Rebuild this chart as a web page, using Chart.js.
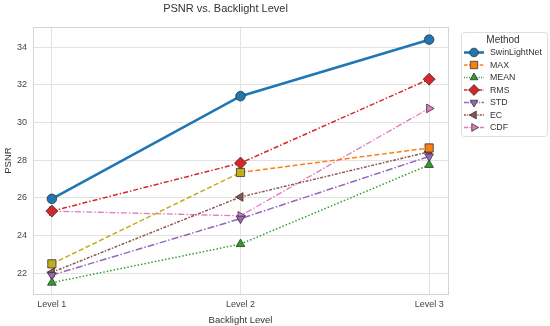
<!DOCTYPE html>
<html>
<head>
<meta charset="utf-8">
<script src="https://cdn.jsdelivr.net/npm/chart.js@4.4.1/dist/chart.umd.min.js"></script>
<style>
  html, body { margin: 0; padding: 0; background: #fff; }
  #wrap { width: 550px; height: 326px; }
</style>
</head>
<body>
<div id="wrap"><canvas id="psnrChart" width="550" height="326"></canvas></div>
<script>
// data
const levels = ['Level 1', 'Level 2', 'Level 3'];
const swinVals = [25.95, 31.4, 34.4];
const maxVals = [22.5, 27.35, 28.65];
const meanVals = [21.5, 23.55, 27.75];
const rmsVals = [25.3, 27.85, 32.3];
const stdVals = [21.9, 24.9, 28.2];
const ecVals = [22.05, 26.05, 28.45];
const cdfVals = [25.3, 25.05, 30.75];
const yTicks = [22, 24, 26, 28, 30, 32, 34];

const pts = (arr) => arr.map((v, i) => ({ x: i, y: v }));

Chart.defaults.font.family = '"Liberation Sans", Arial, sans-serif';
Chart.defaults.color = '#444';

const series = [
  { label: 'SwinLightNet', data: swinVals, color: '#1f77b4', style: 'circle', rot: 0, r: 4.8, dash: [], lw: 2.6 },
  { label: 'MAX', data: maxVals, color: '#ff7f0e', style: 'rect', rot: 0, r: 5.8, dash: [5, 2.5], lw: 1.5 },
  { label: 'MEAN', data: meanVals, color: '#2ca02c', style: 'triangle', rot: 0, r: 5, dash: [1.5, 2], lw: 1.5 },
  { label: 'RMS', data: rmsVals, color: '#d62728', style: 'rectRot', rot: 0, r: 6, dash: [5, 2, 1.5, 2], lw: 1.5 },
  { label: 'STD', data: stdVals, color: '#9467bd', style: 'triangle', rot: 180, r: 5, dash: [7, 2, 1.5, 2], lw: 1.5 },
  { label: 'EC', data: ecVals, color: '#8c564b', style: 'triangle', rot: 270, r: 5, dash: [3, 1.5, 1.5, 1.5], lw: 1.5 },
  { label: 'CDF', data: cdfVals, color: '#e377c2', style: 'triangle', rot: 90, r: 5, dash: [6, 2, 1.5, 2], lw: 1.3 }
];

// the left part of MAX comes out olive in the picture
const maxLeft = '#c2ad1c';

const datasets = series.map((s) => {
  const ds = {
    label: s.label,
    data: pts(s.data),
    borderColor: s.color,
    backgroundColor: s.color,
    borderWidth: s.lw,
    borderDash: s.dash,
    pointStyle: s.style,
    pointRotation: s.rot,
    pointRadius: s.r,
    pointHoverRadius: s.r,
    pointBackgroundColor: s.color,
    pointBorderColor: '#333',
    pointBorderWidth: 0.8,
    tension: 0,
    fill: false
  };
  if (s.label === 'MAX') {
    ds.pointBackgroundColor = [maxLeft, maxLeft, s.color];
    ds.segment = { borderColor: (c) => (c.p0DataIndex === 0 ? maxLeft : s.color) };
  }
  return ds;
});
// draw SwinLightNet on top
datasets[0].order = -1;

// full light-grey frame round the plot area
const plotFrame = {
  id: 'plotFrame',
  beforeDatasetsDraw(chart) {
    const { ctx, chartArea: a } = chart;
    ctx.save();
    ctx.strokeStyle = '#d4d4d4';
    ctx.lineWidth = 1;
    ctx.strokeRect(Math.round(a.left) + 0.5, Math.round(a.top) + 0.5, Math.round(a.right - a.left), Math.round(a.bottom - a.top));
    ctx.restore();
  }
};

const legendBox = {
  id: 'legendBox',
  afterDraw(chart) {
    const ctx = chart.ctx;
    const x0 = 461, y0 = 32, w = 86, h = 104;
    ctx.save();
    ctx.fillStyle = 'rgba(255,255,255,0.9)';
    ctx.strokeStyle = '#dddddd';
    ctx.lineWidth = 1;
    ctx.beginPath();
    ctx.roundRect(x0 + 0.5, y0 + 0.5, w, h, 3);
    ctx.fill();
    ctx.stroke();
    ctx.fillStyle = '#333';
    ctx.font = '10px "Liberation Sans", Arial, sans-serif';
    ctx.textAlign = 'center';
    ctx.textBaseline = 'middle';
    ctx.fillText('Method', 503, 40);
    ctx.textAlign = 'left';
    ctx.font = '8.8px "Liberation Sans", Arial, sans-serif';
    series.forEach((s, i) => {
      const y = 52.5 + i * 12.5;
      ctx.strokeStyle = s.color;
      ctx.lineWidth = s.lw;
      ctx.setLineDash(s.dash.length ? s.dash.map((d) => d * 0.7) : []);
      ctx.beginPath();
      ctx.moveTo(464, y);
      ctx.lineTo(484, y);
      ctx.stroke();
      ctx.setLineDash([]);
      ctx.fillStyle = s.color;
      ctx.strokeStyle = '#333';
      ctx.lineWidth = 0.8;
      Chart.helpers.drawPoint(ctx, { pointStyle: s.style, rotation: s.rot, radius: s.r * 0.9, borderWidth: 0.8 }, 474, y);
      ctx.fillStyle = '#333';
      ctx.fillText(s.label, 490, y + 0.5);
    });
    ctx.restore();
  }
};

new Chart(document.getElementById('psnrChart'), {
  type: 'line',
  data: { datasets },
  plugins: [plotFrame, legendBox],
  options: {
    responsive: false,
    animation: false,
    layout: { padding: { left: 3, right: 102, top: 0, bottom: 0 } },
    plugins: {
      legend: { display: false },
      tooltip: { enabled: false },
      title: {
        display: true,
        text: 'PSNR vs. Backlight Level',
        color: '#333',
        font: { size: 11, weight: 'normal' },
        padding: { top: 2, bottom: 12 }
      }
    },
    scales: {
      x: {
        type: 'linear',
        min: -0.1,
        max: 2.1,
        afterBuildTicks: (scale) => { scale.ticks = levels.map((_, i) => ({ value: i })); },
        afterFit: (scale) => { scale.height = 32; },
        ticks: {
          callback: (v) => levels[v],
          font: { size: 9 },
          padding: 5,
          autoSkip: false,
          maxRotation: 0
        },
        grid: { color: '#e2e2e2', drawTicks: false },
        border: { color: '#d4d4d4' },
        title: { display: true, text: 'Backlight Level', font: { size: 9.5 }, padding: { top: 1, bottom: 0 }, color: '#333' }
      },
      y: {
        min: 20.9,
        max: 35.06,
        afterBuildTicks: (scale) => { scale.ticks = yTicks.map((v) => ({ value: v })); },
        afterFit: (scale) => { scale.width = 30; },
        ticks: { font: { size: 9 }, padding: 6 },
        grid: { color: '#e2e2e2', drawTicks: false },
        border: { color: '#d4d4d4' },
        title: { display: true, text: 'PSNR', font: { size: 9.5 }, padding: { top: 0, bottom: 2 }, color: '#333' }
      }
    }
  }
});
</script>
</body>
</html>
